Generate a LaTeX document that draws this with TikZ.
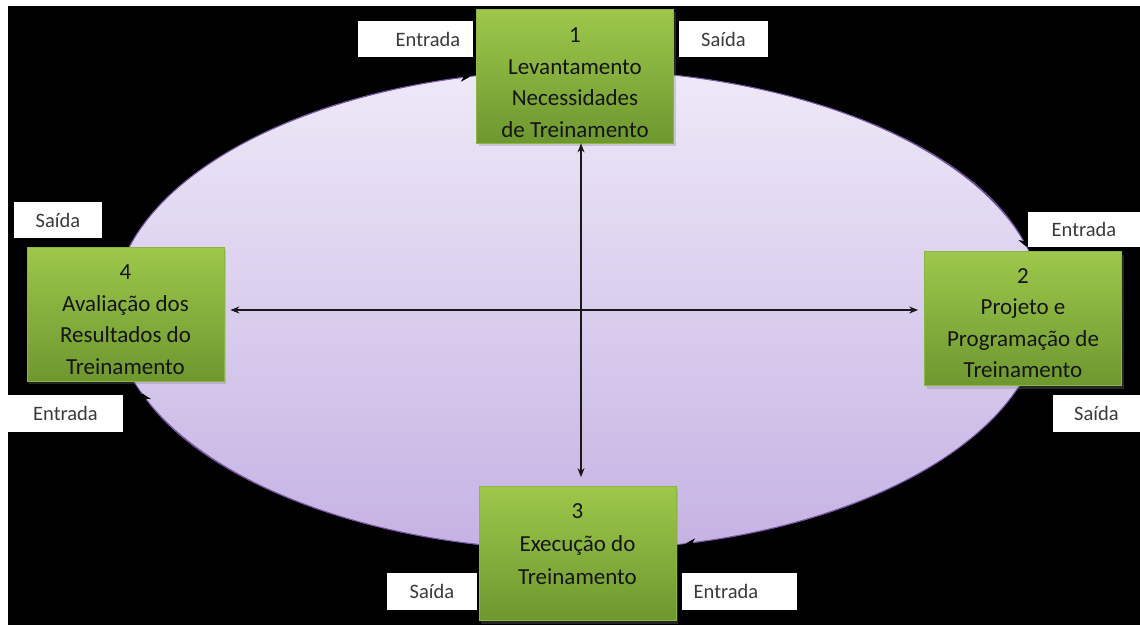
\documentclass[tikz,border=0pt]{standalone}
\usepackage{fontspec}
\setmainfont{Carlito}
\usetikzlibrary{arrows.meta,shadows}
\definecolor{gtop}{HTML}{9DC84B}
\definecolor{gbot}{HTML}{6E972F}
\definecolor{gedge}{HTML}{8CB544}
\definecolor{etop}{HTML}{EEE9F8}
\definecolor{ebot}{HTML}{C6B2E3}
\definecolor{eedge}{HTML}{7A5AA8}
\definecolor{lbl}{HTML}{3A3A3A}
\definecolor{txt}{HTML}{151515}
\begin{document}
\begin{tikzpicture}[x=1pt,y=-1pt,
  stagebox/.style={draw=gedge, line width=0.8pt, top color=gtop, bottom color=gbot,
    minimum width=197pt, minimum height=134pt, inner sep=0pt,
    drop shadow={opacity=0.3, shadow xshift=2pt, shadow yshift=-3pt}},
  stagetext/.style={anchor=north, align=center, inner sep=0pt, text=txt,
    font=\fontsize{23}{31.5}\selectfont},
  lblbox/.style={fill=white, draw=none, inner sep=0pt, minimum height=36pt},
  lbltext/.style={inner sep=0pt, text=lbl, font=\fontsize{20.5}{24}\selectfont},
  crossarrow/.style={draw=black!90, line width=1.2pt, {Stealth[length=9pt,width=7pt]}-{Stealth[length=9pt,width=7pt]}},
  cyclearrow/.style={draw=eedge, line width=0.8pt, -{Stealth[length=10pt,width=8pt,color=black]}}
]
\useasboundingbox (0,0) rectangle (1140,625);
\fill[white] (0,0) rectangle (1140,625);
\fill[black] (8,6) rectangle (1140,625);

% ellipse
\coordinate (C) at (578,310);
\draw[draw=eedge, line width=0.8pt, top color=etop, bottom color=ebot]
  (C) ellipse [x radius=465, y radius=240];

% cycle arrows along the ellipse (clockwise)
\draw[cyclearrow] ([shift={(195.2:465 and 240)}]C) arc[start angle=195.2, end angle=256.6, x radius=465, y radius=240];
\draw[cyclearrow] ([shift={(281.8:465 and 240)}]C) arc[start angle=281.8, end angle=344.8, x radius=465, y radius=240];
\draw[cyclearrow] ([shift={(18.2:465 and 240)}]C) arc[start angle=18.2, end angle=76.6, x radius=465, y radius=240];
\draw[cyclearrow] ([shift={(102.3:465 and 240)}]C) arc[start angle=102.3, end angle=159.7, x radius=465, y radius=240];

% stage boxes
\node[stagebox] (b1) at (575,76) {};
\node[stagebox] (b4) at (125.5,314) {};
\node[stagebox] (b2) at (1023,318.5) {};
\node[stagebox] (b3) at (577.5,553.5) {};

\node[stagetext] (t1) at ([yshift=-19pt]b1.north) {1\\Levantamento\\Necessidades\\de Treinamento};
\node[stagetext] (t4) at ([yshift=-18pt]b4.north) {4\\Avaliação dos\\Resultados do\\Treinamento};
\node[stagetext] (t2) at ([yshift=-17pt]b2.north) {2\\Projeto e\\Programação de\\Treinamento};
\node[stagetext, font=\fontsize{23}{33}\selectfont] (t3) at ([yshift=-17pt]b3.north) {3\\Execução do\\Treinamento};

% cross arrows
\coordinate (vx) at (581,310);
\draw[crossarrow, shorten >=9pt] (b1.south -| vx) -- (b3.north -| vx);
\draw[crossarrow, shorten <=6pt, shorten >=6pt] (b4.east |- vx) -- (b2.west |- vx);

% labels
\node[lblbox, minimum width=115pt] (L1) at (415.5,39) {};
\node[lbltext] (L1t) at ([xshift=12.5pt]L1.center) {Entrada};
\node[lblbox, minimum width=89pt] (L2) at (723.5,39) {};
\node[lbltext] (L2t) at (L2.center) {Saída};
\node[lblbox, minimum width=88pt] (L3) at (58,220) {};
\node[lbltext] (L3t) at (L3.center) {Saída};
\node[lblbox, minimum width=115pt, minimum height=37pt] (L4) at (65.5,413.5) {};
\node[lbltext] (L4t) at (L4.center) {Entrada};
\node[lblbox, minimum width=112pt, minimum height=35pt] (L5) at (1084,229.5) {};
\node[lbltext] (L5t) at (L5.center) {Entrada};
\node[lblbox, minimum width=87pt, minimum height=37pt] (L6) at (1096.5,413.5) {};
\node[lbltext] (L6t) at (L6.center) {Saída};
\node[lblbox, minimum width=90pt, minimum height=37pt] (L7) at (432,591.5) {};
\node[lbltext] (L7t) at (L7.center) {Saída};
\node[lblbox, minimum width=115pt, minimum height=37pt] (L8) at (739.5,591.5) {};
\node[lbltext] (L8t) at ([xshift=-13.5pt]L8.center) {Entrada};
\end{tikzpicture}
\end{document}
